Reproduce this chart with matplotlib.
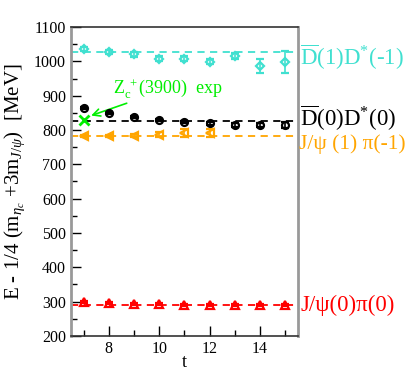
import matplotlib.pyplot as plt
import numpy as np

plt.rcParams['font.family'] = ['Liberation Serif', 'DejaVu Serif']
plt.rcParams['mathtext.fontset'] = 'custom'
plt.rcParams['mathtext.rm'] = 'Liberation Serif'
plt.rcParams['mathtext.it'] = 'Liberation Serif:italic'
plt.rcParams['mathtext.bf'] = 'Liberation Serif:bold'

# data (MeV, relative to 1/4 (m_etac + 3 m_J/psi))
t_all = [7, 8, 9, 10, 11, 12, 13, 14, 15]
t_orange = [7, 8, 9, 10, 11, 12]

dd1_E = [1036, 1027, 1020, 1008, 1008, 999, 1015, 987, 998]
dd1_err = [5, 5, 6, 7, 7, 7, 8, 20, 32]
dd1_fit = 1026

dd0_E = [864, 850, 838, 830, 823, 819, 815, 815, 815]
dd0_err = [3, 3, 3, 3, 3, 4, 5, 6, 8]
dd0_fit = 826

jp1_E = [782, 782, 783, 786, 791, 791]
jp1_err = [3, 3, 4, 7, 12, 12]
jp1_fit = 783

jp0_E = [300, 296, 292, 292, 290, 290, 290, 290, 290]
jp0_err = [3, 3, 3, 3, 3, 3, 3, 3, 3]
jp0_fit = 291

zc_t, zc_E = 7, 830

cyan = '#40e0d0'
orange = '#ffa500'
red = '#ff0000'
green = '#00ee00'

fig = plt.figure(figsize=(4.15, 3.7), dpi=100)
ax = fig.add_axes([0.171, 0.092, 0.547, 0.835])

series = [
    (t_all, dd1_E, dd1_err, dd1_fit, cyan, 'D', 4.5),
    (t_all, dd0_E, dd0_err, dd0_fit, 'black', 'o', 5),
    (t_orange, jp1_E, jp1_err, jp1_fit, orange, '<', 5.5),
    (t_all, jp0_E, jp0_err, jp0_fit, red, '^', 5.5),
]
for t, E, err, fit, col, mk, ms in series:
    ax.axhline(fit, color=col, ls=(0, (4, 3)), lw=1.3, zorder=1)
    ax.errorbar(t, E, yerr=err, fmt=mk, color=col, mfc='none', mec=col,
                mew=1.6, ms=ms, capsize=3, elinewidth=1.2, zorder=3)

ax.plot([zc_t], [zc_E], 'x', color=green, ms=7, mew=2, zorder=4)
ax.annotate(r'Z$_{\rm c}^{\ +}$(3900)  exp', xy=(7.3, 842), xytext=(8.15, 905),
            color=green, fontsize=13,
            arrowprops=dict(arrowstyle='->', color=green, lw=1.2,
                            shrinkA=0, shrinkB=0))

trans = ax.get_yaxis_transform()
lab_kw = dict(transform=trans, va='center', ha='left', clip_on=False)
ax.text(1.01, 1012, r'$\overline{\rm D}$(1)D$^{*}$(-1)', color=cyan,
        fontsize=16.5, **lab_kw)
ax.text(1.01, 834, r'$\overline{\rm D}$(0)D$^{*}$(0)', color='black',
        fontsize=16.5, **lab_kw)
ax.text(1.005, 760, 'J/ψ (1) π(-1)', color=orange, fontsize=15.5, **lab_kw)
ax.text(1.01, 288, 'J/ψ(0)π(0)', color=red, fontsize=16.5, **lab_kw)

ax.set_xlim(6.5, 15.5)
ax.set_ylim(200, 1100)
ax.set_xticks([8, 10, 12, 14])
ax.set_xticks(np.arange(7, 16, 2), minor=True)
ax.set_yticks(np.arange(200, 1101, 100))
ax.set_yticks(np.arange(250, 1100, 100), minor=True)
ax.tick_params(which='both', direction='in', top=False, right=False,
               labelsize=11.5)
ax.tick_params(which='major', length=7, width=1)
ax.tick_params(which='minor', length=4, width=1)

ax.set_xlabel('t', fontsize=13, labelpad=-2)
ax.set_ylabel(r'E - 1/4 (m$_{\eta_c}$ +3m$_{J/\psi}$)  [MeV]', fontsize=15,
              labelpad=5)

for side in ['left', 'right']:
    ax.spines[side].set_color('#999999')
    ax.spines[side].set_linewidth(2)
for side in ['top', 'bottom']:
    ax.spines[side].set_color('#333333')
    ax.spines[side].set_linewidth(1.2)

fig.savefig('out.png', dpi=100)
